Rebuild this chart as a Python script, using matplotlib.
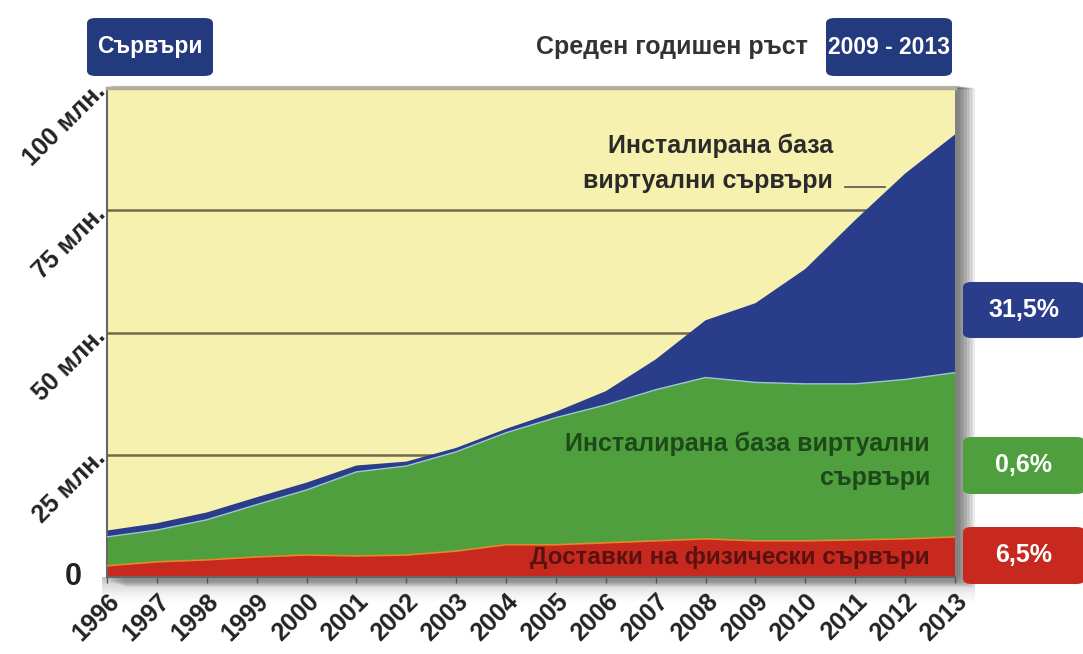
import matplotlib.pyplot as plt
from matplotlib.patches import FancyBboxPatch, Rectangle
import numpy as np

plt.rcParams['font.family'] = ['Liberation Sans Narrow', 'Liberation Sans', 'DejaVu Sans']

years = list(range(1996, 2014))
# физически сървъри (доставки), млн.
physical = [2.3, 3.1, 3.5, 4.1, 4.5, 4.3, 4.5, 5.3, 6.6, 6.6, 7.0, 7.4, 7.8, 7.4, 7.4, 7.6, 7.8, 8.2]
# инсталирана база (зелено), млн.
installed = [5.9, 6.5, 8.2, 10.7, 13.3, 17.2, 18.2, 20.3, 22.9, 26.0, 28.2, 30.9, 33.0, 32.4, 32.1, 31.9, 32.6, 33.6]
# виртуални сървъри (синьо), млн.
virtual = [1.3, 1.4, 1.5, 1.5, 1.5, 1.3, 0.9, 0.8, 0.8, 1.2, 2.8, 6.2, 11.7, 16.2, 23.5, 33.5, 42.1, 48.7]

y_ticks = [0, 25, 50, 75, 100]
y_labels = ["0", "25 млн.", "50 млн.", "75 млн.", "100 млн."]
growth = ["31,5%", "0,6%", "6,5%"]

c_blue = '#2a3d8b'
c_green = '#4f9f3e'
c_red = '#c8291f'
c_bg = '#f7f1b0'

W, H = 1083, 654
fig = plt.figure(figsize=(W / 100, H / 100), dpi=100)
fig.patch.set_facecolor('white')

x0, y0, w, h = 107, 77, 848, 489
ax = fig.add_axes([x0 / W, y0 / H, w / W, h / H])

# сянка около графиката
for i in range(12):
    fig.patches.append(Rectangle(((x0 + 2 + i * 1.5) / W, (y0 - 3 - i * 0.5) / H), w / W, (h + 5 + i * 0.3) / H,
                                 transform=fig.transFigure, color='black', alpha=0.05, zorder=-2))
# сива сянка под оста x
sh = fig.add_axes([(x0 - 5) / W, (y0 - 26) / H, (w + 25) / W, 26 / H], zorder=-1)
grad = np.linspace(0, 1, 50).reshape(-1, 1)
sh.imshow(grad, cmap='Greys_r', vmin=-0.9, vmax=1.0, aspect='auto', alpha=0.55,
          extent=[0, 1, 0, 1], origin='upper')
sh.axis('off')

ax.set_facecolor(c_bg)
ax.stackplot(years, physical, installed, virtual, colors=[c_red, c_green, c_blue], zorder=2)

phys = np.array(physical)
inst = phys + np.array(installed)
ax.plot(years, phys, color='#e08a2a', lw=1.2, zorder=3)
ax.plot(years, inst, color='#9fc3d8', lw=1.0, zorder=3)

ax.set_xlim(1996, 2013)
ax.set_ylim(0, 100)
for v in y_ticks[1:-1]:
    ax.axhline(v, color='#6e6a4a', lw=1.8, zorder=1)

ax.set_xticks(years)
ax.set_xticklabels([str(y) for y in years], rotation=45, ha='right', rotation_mode='anchor',
                   fontsize=18, fontweight='bold', color='#222222')
ax.set_yticks(y_ticks)
ax.set_yticklabels([""] + y_labels[1:], rotation=45, ha='right', va='center', rotation_mode='anchor',
                   fontsize=18, fontweight='bold', color='#222222')
# нулата стои изправена и по-вляво
ax.annotate(y_labels[0], xy=(0, 0), xycoords=('axes fraction', 'data'), xytext=(-25, 0),
            textcoords='offset pixels', ha='right', va='center', fontsize=22,
            fontweight='bold', color='#222222', annotation_clip=False)
ax.tick_params(axis='x', length=4, width=1, color='#555555', pad=5, direction='out')
ax.tick_params(axis='y', length=0, pad=4)
ax.spines['right'].set_visible(False)
ax.spines['top'].set_color('#b0ae98')
ax.spines['top'].set_linewidth(2.5)
ax.spines['left'].set_color('#666666')
ax.spines['left'].set_linewidth(1.5)
ax.spines['bottom'].set_color('#666666')
ax.spines['bottom'].set_linewidth(1.5)

# надписи в графиката
ax.text(2010.55, 84.6, "Инсталирана база\nвиртуални сървъри", ha='right', va='center',
        fontsize=18, fontweight='bold', color='#2b2b2b', linespacing=1.55, zorder=4)
ax.plot([2010.8, 2011.6], [79.7, 79.7], color='#555555', lw=1.2, zorder=4)
ax.text(2012.5, 23.8, "Инсталирана база виртуални\nсървъри", ha='right', va='center',
        fontsize=18, fontweight='bold', color='#1d4a18', linespacing=1.55, zorder=4)
ax.text(2012.5, 3.9, "Доставки на физически сървъри", ha='right', va='center',
        fontsize=17.5, fontweight='bold', color='#5a1210', zorder=4)


def box(px, py, bw, bh, color, text, size=18):
    fig.patches.append(FancyBboxPatch((px / W, (H - py - bh) / H), bw / W, bh / H,
                                      boxstyle='round,pad=0,rounding_size=0.008',
                                      transform=fig.transFigure, facecolor=color, edgecolor='none'))
    fig.text((px + bw / 2) / W, (H - py - bh / 2) / H, text, ha='center', va='center',
             color='white', fontsize=size, fontweight='bold')


box(87, 18, 126, 58, '#243a7e', "Сървъри", 16.5)
box(826, 18, 126, 58, '#243a7e', "2009 - 2013", 16.5)
fig.text(808 / W, (H - 47) / H, "Среден годишен ръст", ha='right', va='center',
         fontsize=18, fontweight='bold', color='#333333')

box(963, 282, 122, 56, c_blue, growth[0])
box(963, 437, 122, 57, c_green, growth[1])
box(963, 527, 122, 57, c_red, growth[2])

fig.savefig('out.png', dpi=100)
